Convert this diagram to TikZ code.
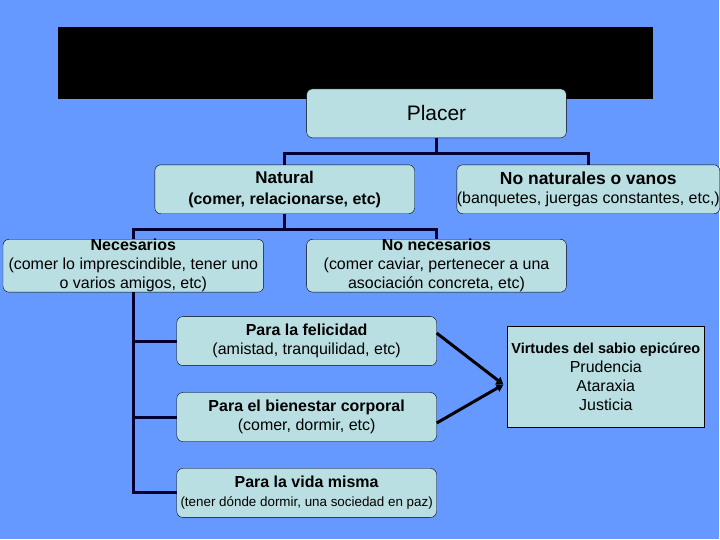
\documentclass[tikz,border=0pt]{standalone}
\usepackage{fontspec}
\setmainfont{Liberation Sans}
\usetikzlibrary{arrows.meta,positioning}
\definecolor{slidebg}{HTML}{6699FF}
\definecolor{boxfill}{HTML}{B9DFE2}
\definecolor{linkcol}{HTML}{000033}

\begin{document}
\begin{tikzpicture}[
  x=1pt, y=-1pt,
  every node/.style={align=center, font=\fontsize{16}{19}\selectfont},
  concept/.style={rectangle, rounded corners=6pt, draw=black, fill=boxfill, minimum width=260pt, minimum height=49pt, inner sep=0pt},
  virtue/.style={rectangle, draw=black, fill=boxfill, minimum width=198pt, minimum height=101pt, inner sep=0pt},
  link/.style={draw=linkcol, line width=3pt},
  arrow/.style={-{Triangle[length=7pt,width=8pt]}, line width=3pt, draw=black}
]

% --- BACKGROUND AND TITLE BAR ---
\fill[slidebg] (0,0) rectangle (720,540);
\fill[black] (58,27) rectangle (654,99);

% --- ROOT ---
\node[concept] (placer) at (437,113.5) {\fontsize{21}{24}\selectfont Placer};

% --- FIRST LEVEL ---
\node[concept, font=\fontsize{17}{21}\selectfont\bfseries] (natural) at (285,189.5) {Natural\\\fontsize{16}{21}\selectfont(comer, relacionarse, etc)};
\node[concept, minimum width=262pt] (vanos) at (589,189.5) {\textbf{\fontsize{17.5}{21}\selectfont No naturales o vanos}\\(banquetes, juergas constantes, etc,)};

\draw[link] (placer.south) -- ++(0,15) -| (natural.north);
\draw[link] (placer.south) -- ++(0,15) -| (vanos.north);

% --- SECOND LEVEL ---
\node[concept, minimum width=261pt, minimum height=50pt] (necesarios) at (133.5,266) {\textbf{Necesarios}\\(comer lo imprescindible, tener uno\\o varios amigos, etc)};
\node[concept, minimum height=50pt] (nonecesarios) at (437,266) {\textbf{No necesarios}\\(comer caviar, pertenecer a una\\asociación concreta, etc)};

\draw[link] (natural.south) -- ++(0,16) -| (necesarios.north);
\draw[link] (natural.south) -- ++(0,16) -| (nonecesarios.north);

% --- NECESSARY PLEASURES ---
\node[concept] (felicidad) at (307,341.5) {\textbf{Para la felicidad}\\(amistad, tranquilidad, etc)};
\node[concept] (bienestar) at (307,417.5) {\textbf{Para el bienestar corporal}\\(comer, dormir, etc)};
\node[concept] (vida) at (307,493.5) {\textbf{Para la vida misma}\\\fontsize{13.4}{19}\selectfont(tener dónde dormir, una sociedad en paz)};

\draw[link] (necesarios.south) -- (necesarios.south |- vida.west) -- (vida.west);
\draw[link] (necesarios.south |- felicidad.west) -- (felicidad.west);
\draw[link] (necesarios.south |- bienestar.west) -- (bienestar.west);

% --- VIRTUES ---
\node[virtue] (virtudes) at (606.5,377.5) {\textbf{\fontsize{14.5}{19}\selectfont Virtudes del sabio epicúreo}\\Prudencia\\Ataraxia\\Justicia};
\coordinate (meet) at (504,385);

\draw[arrow] ([yshift=8pt]felicidad.east) -- (meet);
\draw[arrow] ([yshift=-6pt]bienestar.east) -- (meet);

\end{tikzpicture}
\end{document}
